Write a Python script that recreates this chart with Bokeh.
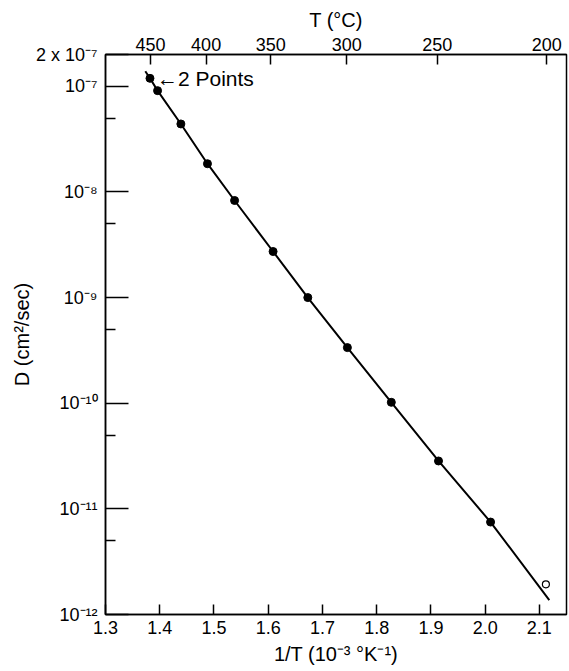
from bokeh.plotting import figure
from bokeh.models import LinearAxis, FixedTicker, Label, Title
from bokeh.embed import file_html
from bokeh.resources import INLINE

# ---- data ----
inv_T = [1.382, 1.396, 1.439, 1.488, 1.538, 1.609, 1.673, 1.746, 1.827, 1.914, 2.010]
D = [1.19e-7, 9.1e-8, 4.4e-8, 1.85e-8, 8.3e-9, 2.73e-9, 1.0e-9, 3.36e-10, 1.02e-10, 2.84e-11, 7.5e-12]
open_inv_T = [2.112]
open_D = [1.93e-12]
line_start = (1.3734, 1.39e-7)
line_end = (2.1183, 1.37e-12)

x_ticks = [1.3, 1.4, 1.5, 1.6, 1.7, 1.8, 1.9, 2.0, 2.1]
x_tick_labels = ["1.3", "1.4", "1.5", "1.6", "1.7", "1.8", "1.9", "2.0", "2.1"]
y_ticks = [1e-12, 1e-11, 1e-10, 1e-9, 1e-8, 1e-7, 2e-7]
y_tick_labels = ["10⁻¹²", "10⁻¹¹", "10⁻¹⁰", "10⁻⁹", "10⁻⁸", "10⁻⁷", "2 x 10⁻⁷"]
y_minor = [5e-12, 5e-11, 5e-10, 5e-9, 5e-8]
top_T_C = [450, 400, 350, 300, 250, 200]

FONT = "Liberation Sans"

p = figure(width=568, height=670, x_range=(1.3, 2.15), y_range=(y_ticks[0], y_ticks[-1]),
           y_axis_type="log", output_backend="svg", toolbar_location=None,
           min_border_left=105, min_border_right=2, min_border_top=54, min_border_bottom=56)
p.grid.visible = False
p.outline_line_color = "black"
p.outline_line_width = 1.5
p.background_fill_color = "white"
p.border_fill_color = "white"

# bottom axis
xa = p.xaxis[0]
xa.ticker = FixedTicker(ticks=x_ticks, minor_ticks=[])
xa.major_label_overrides = {t: l for t, l in zip(x_ticks, x_tick_labels)}
xa.axis_label = "1/T (10⁻³ °K⁻¹)"

# left axis
ya = p.yaxis[0]
ya.ticker = FixedTicker(ticks=y_ticks, minor_ticks=y_minor)
ya.major_label_overrides = {t: l for t, l in zip(y_ticks, y_tick_labels)}

# top axis in °C
top_pos = [1000.0 / (t + 273.15) for t in top_T_C]
ta = LinearAxis(ticker=FixedTicker(ticks=top_pos, minor_ticks=[]),
                major_label_overrides={pp: str(t) for pp, t in zip(top_pos, top_T_C)},
                axis_label="T (°C)")
p.add_layout(ta, "above")

for ax in (xa, ya, ta):
    ax.axis_line_color = "black"
    ax.axis_line_width = 1.5
    ax.major_tick_line_color = "black"
    ax.major_tick_line_width = 1.5
    ax.minor_tick_line_color = "black"
    ax.minor_tick_line_width = 1.5
    ax.major_tick_out = 0
    ax.minor_tick_out = 0
    ax.major_tick_in = 10
    ax.minor_tick_in = 0
    ax.major_label_text_font = FONT
    ax.major_label_text_font_size = "18px"
    ax.major_label_text_color = "black"
    ax.axis_label_text_font = FONT
    ax.axis_label_text_font_size = "20px"
    ax.axis_label_text_font_style = "normal"
    ax.axis_label_text_color = "black"

ya.major_tick_in = 23
ya.minor_tick_in = 10
ya.major_label_standoff = 8
ta.major_label_standoff = 4
ta.axis_label_standoff = 4
xa.major_label_standoff = 6
xa.axis_label_standoff = 6

# D axis title, placed outside the tick labels
p.add_layout(Title(text="D (cm²/sec)", align="center", standoff=0,
                   text_font=FONT, text_font_size="20px", text_font_style="normal",
                   text_color="black"), "left")

# curve through the measured points
cx = [line_start[0]] + inv_T + [line_end[0]]
cy = [line_start[1]] + D + [line_end[1]]
p.line(cx, cy, line_color="black", line_width=2)

p.scatter(inv_T, D, size=8, fill_color="black", line_color="black", marker="circle")
p.scatter(open_inv_T, open_D, size=7, fill_color="white", line_color="black",
          line_width=1.2, marker="circle")

p.add_layout(Label(x=inv_T[0], y=D[0], text="←2 Points", x_offset=7,
                   text_baseline="middle", text_align="left",
                   text_font=FONT, text_font_size="21px", text_color="black"))

open("out.html", "w").write(file_html(p, INLINE))
